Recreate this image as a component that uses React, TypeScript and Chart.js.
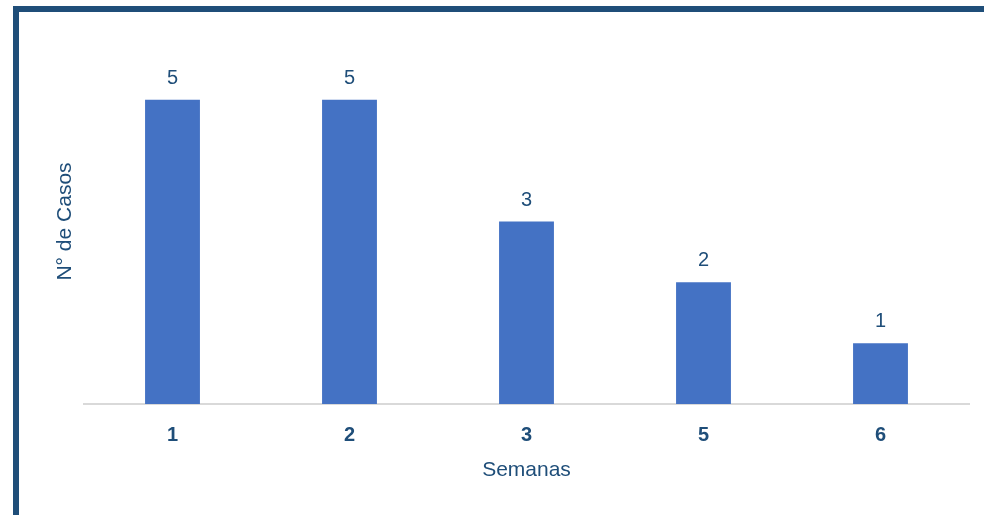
import React, { useEffect, useRef } from "react";
import { Chart, registerables } from "chart.js";

Chart.register(...registerables);

const categories = ["1", "2", "3", "5", "6"];
const casos = [5, 5, 3, 2, 1];
const yMax = 6;

const TEXT = "#1F4E79";
const BAR = "#4472C4";
const FONT = "'Liberation Sans', Arial, sans-serif";

const valueLabels = {
  id: "valueLabels",
  afterDatasetsDraw(chart: any) {
    const ctx = chart.ctx;
    ctx.save();
    ctx.font = `20px ${FONT}`;
    ctx.fillStyle = TEXT;
    ctx.textAlign = "center";
    ctx.textBaseline = "alphabetic";
    chart.data.datasets.forEach((ds: any, di: number) => {
      const meta = chart.getDatasetMeta(di);
      meta.data.forEach((bar: any, i: number) => {
        ctx.fillText(String(ds.data[i]), bar.x, bar.y - 16);
      });
    });
    ctx.restore();
  },
};

export default function App() {
  const ref = useRef<HTMLCanvasElement>(null);
  useEffect(() => {
    if (!ref.current) return;
    const chart = new Chart(ref.current, {
      type: "bar",
      data: {
        labels: categories,
        datasets: [
          {
            data: casos,
            backgroundColor: BAR,
            categoryPercentage: 1,
            barPercentage: 0.31,
          },
        ],
      },
      options: {
        responsive: false,
        animation: false,
        layout: { padding: { top: 39, right: 15, left: 0, bottom: 0 } },
        plugins: { legend: { display: false }, tooltip: { enabled: false } },
        scales: {
          x: {
            grid: { display: false, drawTicks: false },
            border: { display: true, color: "#D9D9D9", width: 2 },
            ticks: {
              color: TEXT,
              font: { family: FONT, size: 20, weight: "bold" },
              padding: 19,
            },
            title: {
              display: true,
              text: "Semanas",
              color: TEXT,
              font: { family: FONT, size: 21 },
              padding: { top: 0, bottom: 32 },
            },
            afterFit: (s: any) => {
              s.height = 111;
            },
          },
          y: {
            min: 0,
            max: yMax,
            grid: { display: false, drawTicks: false },
            border: { display: false },
            ticks: { display: false },
            title: {
              display: true,
              text: "N° de Casos",
              color: TEXT,
              font: { family: FONT, size: 21 },
              padding: { top: 53, bottom: 0 },
            },
            afterFit: (s: any) => {
              s.width = 84;
            },
          },
        },
      },
      plugins: [valueLabels],
    });
    return () => chart.destroy();
  }, []);

  return (
    <div
      style={{
        position: "fixed",
        left: 0,
        top: 0,
        width: 984,
        height: 515,
        background: "#fff",
        overflow: "hidden",
      }}
    >
      <canvas
        ref={ref}
        width={984}
        height={515}
        style={{ position: "absolute", left: 0, top: 0, width: 984, height: 515 }}
      />
      <div
        style={{
          position: "absolute",
          left: 13,
          top: 6,
          right: 0,
          bottom: 0,
          borderTop: `6px solid ${TEXT}`,
          borderLeft: `6px solid ${TEXT}`,
          pointerEvents: "none",
        }}
      />
    </div>
  );
}
